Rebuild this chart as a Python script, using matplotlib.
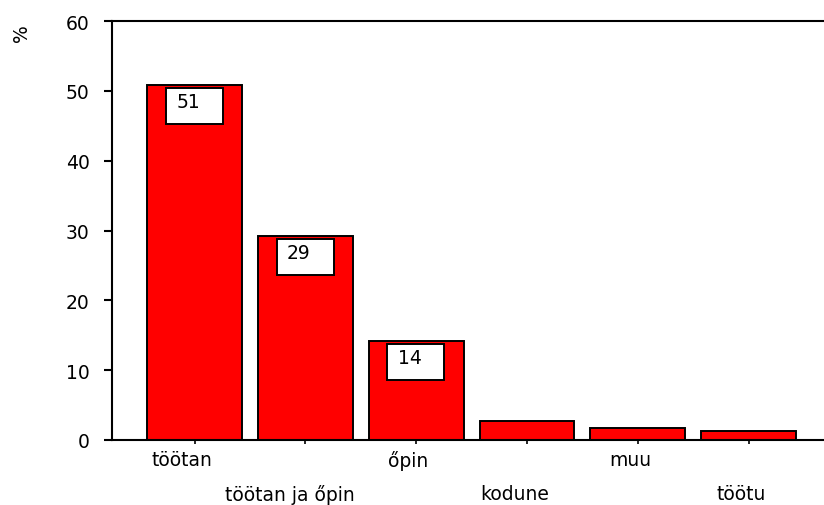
import matplotlib
matplotlib.use("Agg")
import matplotlib.pyplot as plt
from matplotlib.patches import Rectangle
from matplotlib.transforms import ScaledTranslation

categories = ["töötan", "töötan ja őpin", "őpin", "kodune", "muu", "töötu"]
values = [50.8, 29.2, 14.2, 2.7, 1.65, 1.3]
labels = ["51", "29", "14", "", "", ""]
yticks = [0, 10, 20, 30, 40, 50, 60]

# horizontal nudge of category labels (pixels), as in the original rendering
label_shift_px = [-13, -16, -8, -12, -8, -7]

plt.rcParams['font.family'] = ['DejaVu Sans']
fs = 13.5
dpi = 100

fig = plt.figure(figsize=(8.24, 5.06), dpi=dpi)
ax = fig.add_axes([112/824, 1-441/506, 1-112/824, (441-22)/506])

x = list(range(len(categories)))
ax.bar(x, values, width=0.855, color="#ff0000", edgecolor="black", linewidth=1.4, zorder=2)

ax.set_xlim(-0.745, 5.68)
ax.set_ylim(0, 60)
ax.set_yticks(yticks)
ax.set_yticklabels([str(t) for t in yticks], fontsize=fs)
ax.set_xticks(x)
ax.set_xticklabels(categories, fontsize=fs)
ax.tick_params(axis='y', direction='out', length=6, width=1.5, pad=10)
ax.tick_params(axis='x', direction='out', length=3, width=1.2)
for i, t in enumerate(ax.xaxis.get_major_ticks()):
    t.set_pad(4 if i % 2 == 0 else 29)
for lbl, dx in zip(ax.get_xticklabels(), label_shift_px):
    lbl.set_transform(lbl.get_transform() + ScaledTranslation(dx/dpi, 0, fig.dpi_scale_trans))

for s in ["left", "top", "bottom"]:
    ax.spines[s].set_linewidth(1.5)
ax.spines["right"].set_visible(False)

# value boxes
for i, (v, lab) in enumerate(zip(values, labels)):
    if not lab:
        continue
    bw, bh = 0.514, 5.16
    top = v - 0.43
    ax.add_patch(Rectangle((i - 0.26, top - bh), bw, bh, facecolor="white",
                           edgecolor="black", linewidth=1.4, zorder=3))
    ax.text(i - 0.165, top - 1.9, lab, ha="left", va="center", fontsize=fs, zorder=4)

fig.text(22/824, 1-33/506, "%", rotation=90, ha="center", va="center", fontsize=fs)

fig.savefig("out.png", dpi=dpi)
